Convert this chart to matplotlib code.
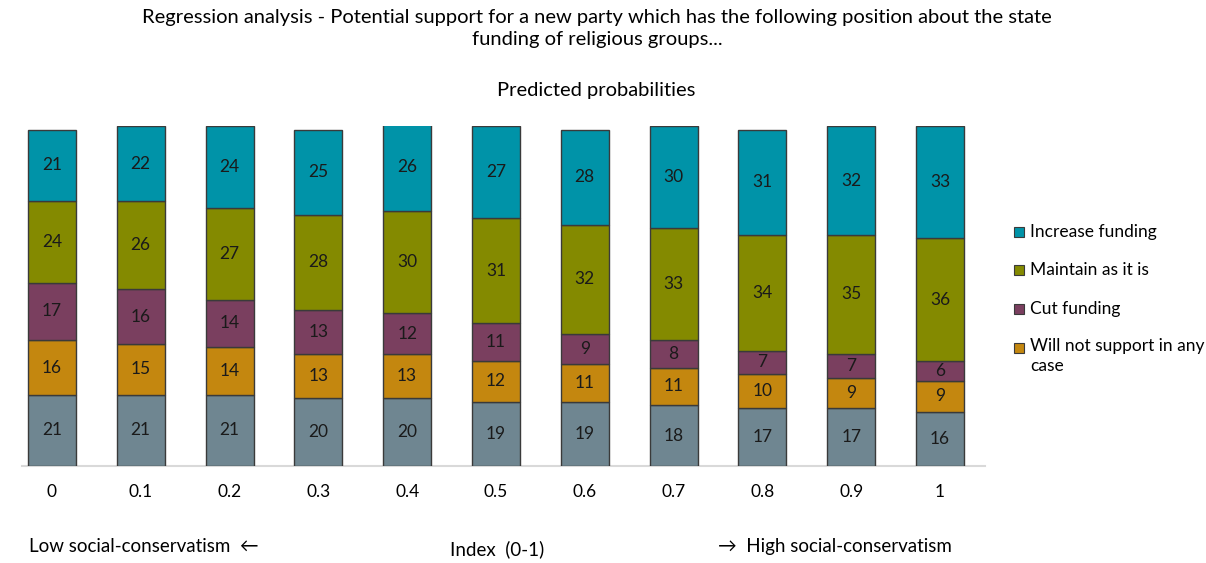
import matplotlib.pyplot as plt
from matplotlib.patches import Rectangle
import numpy as np

plt.rcParams['font.family'] = ['Lato', 'DejaVu Sans']

index_labels = ['0', '0.1', '0.2', '0.3', '0.4', '0.5', '0.6', '0.7', '0.8', '0.9', '1']
other = [21, 21, 21, 20, 20, 19, 19, 18, 17, 17, 16]
no_support = [16, 15, 14, 13, 13, 12, 11, 11, 10, 9, 9]
cut = [17, 16, 14, 13, 12, 11, 9, 8, 7, 7, 6]
maintain = [24, 26, 27, 28, 30, 31, 32, 33, 34, 35, 36]
increase = [21, 22, 24, 25, 26, 27, 28, 30, 31, 32, 33]

series = [
    (other, '#6f8691', None),
    (no_support, '#c4870f', 'Will not support in any\ncase'),
    (cut, '#7a3f5f', 'Cut funding'),
    (maintain, '#848a00', 'Maintain as it is'),
    (increase, '#0093a8', 'Increase funding'),
]

fig = plt.figure(figsize=(12.06, 5.63), dpi=100)
ax = fig.add_axes([0.018, 0.172, 0.799, 0.604])

x = np.arange(len(index_labels))
bottom = np.zeros(len(x))
for vals, col, name in series:
    vals = np.array(vals)
    ax.bar(x, vals, 0.54, bottom=bottom, color=col, edgecolor='#3a3a3a', linewidth=1, zorder=3)
    for xi, v, b0 in zip(x, vals, bottom):
        ax.text(xi, b0 + v / 2, str(v), ha='center', va='center', fontsize=12.5, color='#1a1a1a', zorder=4)
    bottom += vals

ax.set_xlim(-0.34, 10.51)
ax.set_ylim(0, 100)
ax.set_yticks([])
ax.set_xticks(x)
ax.set_xticklabels(index_labels, fontsize=12.5)
ax.tick_params(axis='x', length=0, pad=13)
for s in ['top', 'right', 'left']:
    ax.spines[s].set_visible(False)
ax.spines['bottom'].set_color('#d9d9d9')
ax.spines['bottom'].set_linewidth(1.5)

# legend drawn by hand (pixel positions), top entry first
W, H = 1206, 563
legend_rows = [s for s in series if s[2]][::-1]
row_y = [232, 270, 309, 348]
for (vals, col, name), py in zip(legend_rows, row_y):
    fig.patches.append(Rectangle((1014 / W, 1 - (py + 5) / H), 10 / W, 10 / H,
                                 transform=fig.transFigure, facecolor=col,
                                 edgecolor='#3a3a3a', linewidth=0.8))
    if '\n' in name:
        fig.text(1030 / W, 1 - (py - 10) / H, name, ha='left', va='top', fontsize=12.5, linespacing=1.3)
    else:
        fig.text(1030 / W, 1 - py / H, name, ha='left', va='center', fontsize=12.5)

fig.text(0.495, 1 - 17 / H, 'Regression analysis - Potential support for a new party which has the following position about the state',
         ha='center', va='center', fontsize=14.5)
fig.text(0.495, 1 - 40 / H, 'funding of religious groups...', ha='center', va='center', fontsize=14.5)
fig.text(0.494, 0.840, 'Predicted probabilities', ha='center', va='center', fontsize=14.5)

fig.text(0.024, 0.030, 'Low social-conservatism  ←', ha='left', va='center', fontsize=13.5)
fig.text(0.412, 0.025, 'Index  (0-1)', ha='center', va='center', fontsize=13.5)
fig.text(0.595, 0.030, '→  High social-conservatism', ha='left', va='center', fontsize=13.5)

fig.savefig('out.png', dpi=100)
